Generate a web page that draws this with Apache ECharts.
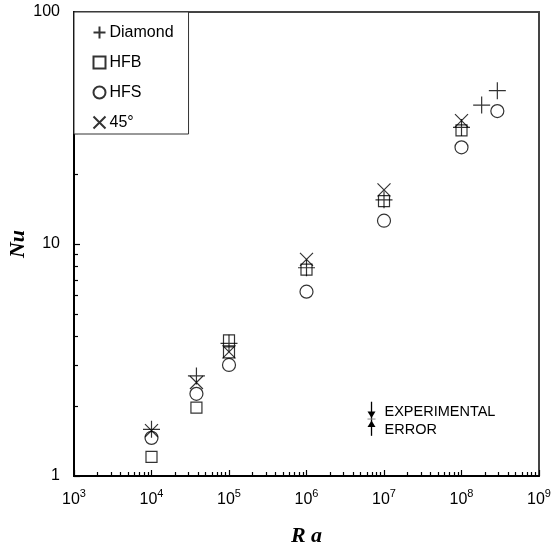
<!DOCTYPE html>
<html><head><meta charset="utf-8">
<script src="https://cdn.jsdelivr.net/npm/echarts@6/dist/echarts.min.js"></script>
<style>html,body{margin:0;padding:0;background:#fff}#c{width:553px;height:542px}</style>
</head><body><div id="c"></div>
<script>
// Data (Ra, Nu)
const diamond = [[1e4,1.59],[3.8e4,2.70],[1e5,3.73],[1e6,7.9],[1e7,15.5],[1e8,31.8],[1.82e8,39.7],[2.9e8,45.8]];
const hfb     = [[1e4,1.21],[3.8e4,1.97],[1e5,3.84],[1e5,3.41],[1e6,7.75],[1e7,15.3],[1e8,30.9]];
const hfs     = [[1e4,1.46],[3.8e4,2.26],[1e5,3.01],[1e6,6.23],[1e7,12.6],[1e8,26.1],[2.9e8,37.4]];
const deg45   = [[1e4,1.57],[3.8e4,2.53],[1e5,3.43],[1e6,8.59],[1e7,17.1],[1e8,34.0]];
// experimental error marker: [Ra, top, bottom, center]
const errorBar = [[6.9e6, 2.09, 1.49, 1.76]];
const errorText = ['EXPERIMENTAL', 'ERROR'];
const seriesNames = ['Diamond', 'HFB', 'HFS', '45°'];
const xTickExps = [3,4,5,6,7,8,9];
const yTicks = [1,10,100];

const FONT = '"Liberation Sans", Arial, sans-serif';
const sym = {
  plus: 'path://M1,0L1,2M0,1L2,1',
  cross: 'path://M0,0L2,2M0,2L2,0',
  square: 'rect',
  circle: 'circle'
};
const st = {color:'none', borderColor:'#000', borderWidth:1.2};

function scatter(name, data, symbol, size){
  return {name, type:'scatter', data, symbol, symbolSize:size, itemStyle:st, z:5};
}

const chart = echarts.init(document.getElementById('c'), null, {renderer:'canvas'});
chart.setOption({
  animation:false,
  backgroundColor:'#fff',
  grid:{left:74, right:14, top:12, bottom:66, containLabel:false, outerBoundsMode:'none',
        show:true, borderColor:'#444', borderWidth:2, backgroundColor:'transparent'},
  legend:{
    orient:'vertical', left:74, top:12, data:seriesNames,
    backgroundColor:'#fff', borderColor:'#333', borderWidth:1,
    padding:[12,15,3,17], itemGap:13, itemWidth:12, itemHeight:12,
    textStyle:{fontFamily:FONT, fontSize:16, color:'#000', padding:[0,0,0,-1]}
  },
  xAxis:{
    type:'log', logBase:10, min:1e3, max:1e9, interval:1,
    name:'R a', nameLocation:'middle', nameGap:49, nameMoveOverlap:false,
    nameTextStyle:{fontFamily:'"Liberation Serif", "Times New Roman", serif', fontStyle:'italic', fontWeight:'bold', fontSize:22, color:'#000'},
    axisLine:{lineStyle:{color:'#000', width:2}},
    axisTick:{inside:true, length:6, lineStyle:{color:'#000', width:1.2}},
    minorTick:{show:true, splitNumber:9, length:4, lineStyle:{color:'#000', width:1.2}},
    splitLine:{show:false},
    axisLabel:{
      margin:12,
      formatter: v => { const e = Math.round(Math.log10(v)); return xTickExps.includes(e) ? '{b|10}{s|' + e + '}' : ''; },
      rich:{
        b:{fontFamily:FONT, fontSize:16, color:'#000', lineHeight:20, verticalAlign:'bottom'},
        s:{fontFamily:FONT, fontSize:11, color:'#000', lineHeight:20, verticalAlign:'top', padding:[0,0,8,0]}
      }
    }
  },
  yAxis:{
    type:'log', logBase:10, min:1, max:100, interval:1,
    name:'Nu', nameLocation:'middle', nameGap:45, nameRotate:90, nameMoveOverlap:false,
    nameTextStyle:{fontFamily:'"Liberation Serif", "Times New Roman", serif', fontStyle:'italic', fontWeight:'bold', fontSize:22, color:'#000'},
    axisLine:{lineStyle:{color:'#000', width:2}},
    axisTick:{inside:true, length:6, lineStyle:{color:'#000', width:1.2}},
    minorTick:{show:true, splitNumber:9, length:4, lineStyle:{color:'#000', width:1.2}},
    splitLine:{show:false},
    axisLabel:{margin:14, fontFamily:FONT, fontSize:16, color:'#000',
      formatter: v => yTicks.includes(Math.round(v)) ? String(Math.round(v)) : ''}
  },
  series:[
    scatter(seriesNames[0], diamond, sym.plus, 17),
    scatter(seriesNames[1], hfb, sym.square, 11),
    scatter(seriesNames[2], hfs, sym.circle, 13),
    scatter(seriesNames[3], deg45, sym.cross, 13),
    {
      type:'custom', data:errorBar, silent:true, z:6, clip:false,
      renderItem:(params, api) => {
        const x = api.value(0);
        const top = api.coord([x, api.value(1)]);
        const bot = api.coord([x, api.value(2)]);
        const mid = api.coord([x, api.value(3)]);
        const cx = top[0];
        return {type:'group', children:[
          {type:'line', shape:{x1:cx, y1:top[1], x2:cx, y2:bot[1]}, style:{stroke:'#000', lineWidth:1.3}},
          {type:'polygon', shape:{points:[[cx-4, mid[1]-7.5],[cx+4, mid[1]-7.5],[cx, mid[1]-1]]}, style:{fill:'#000'}},
          {type:'polygon', shape:{points:[[cx-4, mid[1]+8],[cx+4, mid[1]+8],[cx, mid[1]+1.5]]}, style:{fill:'#000'}},
          {type:'line', shape:{x1:cx-4, y1:mid[1], x2:cx+4, y2:mid[1]}, style:{stroke:'#888', lineWidth:1}},
          {type:'text', x:cx+13, y:mid[1]-7, style:{text:errorText[0], fontFamily:FONT, fontSize:14.5, fill:'#000', verticalAlign:'middle'}},
          {type:'text', x:cx+13, y:mid[1]+11, style:{text:errorText[1], fontFamily:FONT, fontSize:14.5, fill:'#000', verticalAlign:'middle'}}
        ]};
      }
    }
  ]
});
</script></body></html>
